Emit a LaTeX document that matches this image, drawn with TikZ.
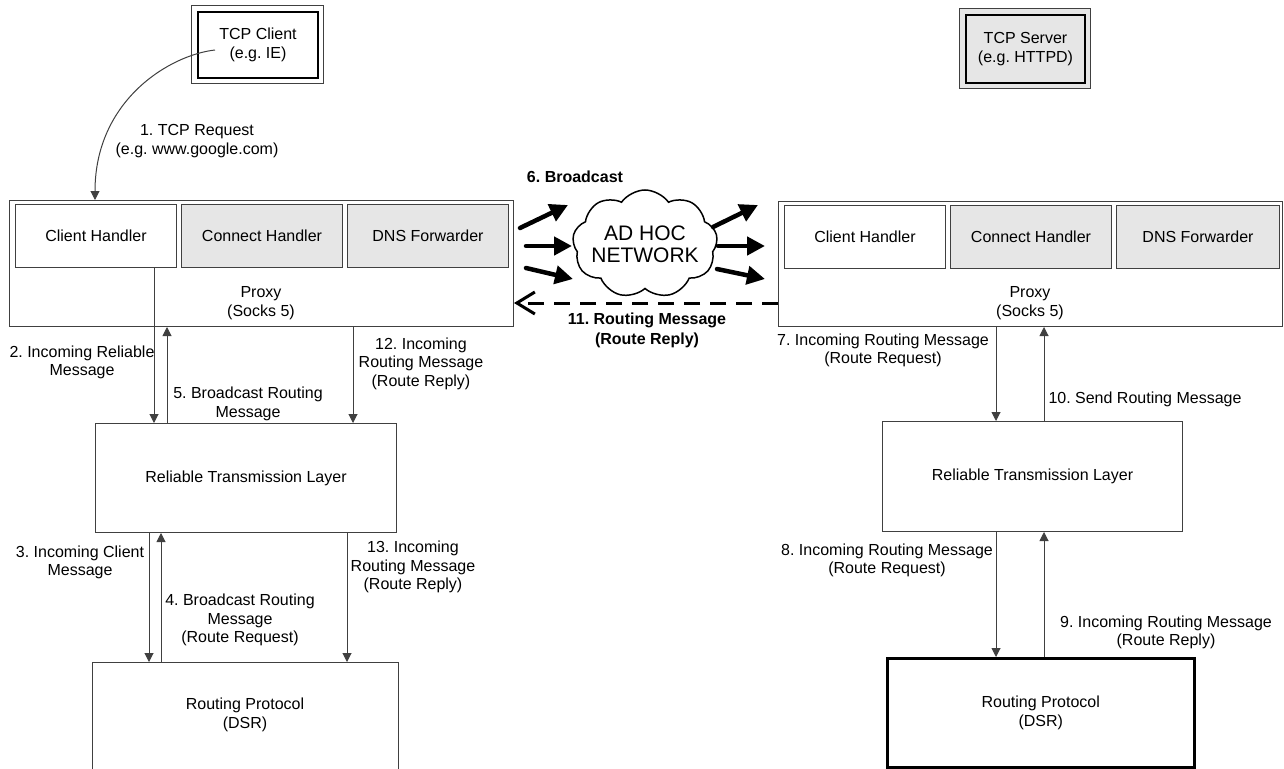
\documentclass[tikz,border=0pt]{standalone}
\usepackage{fontspec}
\setmainfont{Liberation Sans}
\usetikzlibrary{arrows.meta,shapes.symbols,calc}
\definecolor{lg}{HTML}{404040}
\definecolor{fillg}{HTML}{E6E6E6}
\frenchspacing
\begin{document}
\begin{tikzpicture}[x=1pt,y=-1pt,
  font=\frenchspacing\fontsize{16}{18.5}\selectfont,
  box/.style={draw=lg,line width=1pt,inner sep=0pt,anchor=north west,align=center},
  handler/.style={box,minimum width=161pt,minimum height=63pt},
  grayhandler/.style={handler,fill=fillg},
  arr/.style={draw=lg,line width=1pt,-{Triangle[length=9pt,width=9pt]}},
  bcast/.style={line width=4.5pt,line cap=round,-{Triangle[length=18pt,width=18pt]}},
  lbl/.style={align=center,inner sep=0pt},
  blbl/.style={align=center,inner sep=0pt,font=\frenchspacing\fontsize{16}{20}\selectfont\bfseries}]
\useasboundingbox (0,0) rectangle (1284,768);
\fill[white] (0,0) rectangle (1284,768);

% ---------- TCP client / server ----------
\node[box,minimum width=132pt,minimum height=78pt] (clientO) at (191,5) {};
\node[box,draw=black,line width=2pt,minimum width=120pt,minimum height=66pt,fill=white] (client) at (197,11) {};
\node[lbl] (clientT) at (client.center) {TCP Client\\(e.g. IE)};

\node[box,minimum width=131pt,minimum height=80pt,fill=fillg] (serverO) at (959,8) {};
\node[box,draw=black,line width=2pt,minimum width=119pt,minimum height=68pt,fill=fillg] (server) at (965,14) {};
\node[lbl] (serverT) at (server.center) {TCP Server\\(e.g. HTTPD)};

% ---------- left side ----------
\node[box,minimum width=504pt,minimum height=126pt] (pL) at (9,200) {};
\node[handler,fill=white] (chL) at (15,204) {Client Handler};
\node[grayhandler] (cnL) at (181,204) {Connect Handler};
\node[grayhandler] (dnL) at (347,204) {DNS Forwarder};
\node[lbl] (pLT) at (261,303) {Proxy\\(Socks 5)};

\node[box,minimum width=301pt,minimum height=109pt] (rtlL) at (95,423) {Reliable Transmission Layer};
\node[box,minimum width=306pt,minimum height=130pt] (dsrL) at (92,662) {};
\node[lbl] (dsrLT) at (245,715) {Routing Protocol\\(DSR)};

% ---------- right side ----------
\node[box,minimum width=504pt,minimum height=125pt] (pR) at (778,201) {};
\node[handler,fill=white] (chR) at (784,205) {Client Handler};
\node[grayhandler] (cnR) at (950,205) {Connect Handler};
\node[grayhandler,minimum width=163pt] (dnR) at (1116,205) {DNS Forwarder};
\node[lbl] (pRT) at (1030,303) {Proxy\\(Socks 5)};

\node[box,minimum width=300pt,minimum height=110pt] (rtlR) at (882,421) {Reliable Transmission Layer};
\node[box,draw=black,line width=2.5pt,minimum width=307pt,minimum height=109pt] (dsrR) at (886,657) {Routing Protocol\\(DSR)};

% ---------- x positions of vertical connectors ----------
\coordinate (x95) at (95,0);
\coordinate (x154) at (154,0);
\coordinate (x167) at (167,0);
\coordinate (x353) at (353,0);
\coordinate (x149) at (149,0);
\coordinate (x161) at (161,0);
\coordinate (x347) at (347,0);
\coordinate (x996) at (996,0);
\coordinate (x1044) at (1044,0);
\coordinate (y303) at (0,303);

% ---------- connectors left ----------
\coordinate (cs) at (215,50);
\draw[arr] (cs) .. controls (170,55) and (95,100) .. (pL.north -| x95);
\draw[arr] (chL.south -| x154) -- (rtlL.north -| x154);
\draw[arr] (rtlL.north -| x167) -- (pL.south -| x167);
\draw[arr] (pL.south -| x353) -- (rtlL.north -| x353);
\draw[arr] (rtlL.south -| x149) -- (dsrL.north -| x149);
\draw[arr] (dsrL.north -| x161) -- (rtlL.south -| x161);
\draw[arr] (rtlL.south -| x347) -- (dsrL.north -| x347);

% ---------- connectors right ----------
\draw[arr] (pR.south -| x996) -- (rtlR.north -| x996);
\draw[arr] (rtlR.north -| x1044) -- (pR.south -| x1044);
\draw[arr] (rtlR.south -| x996) -- (dsrR.north -| x996);
\draw[arr] (dsrR.north -| x1044) -- (rtlR.south -| x1044);

% ---------- ad hoc network ----------
\node[cloud,draw,line width=1.5pt,fill=white,cloud puffs=9,cloud puff arc=110,cloud ignores aspect,
  minimum width=145pt,minimum height=108pt,inner sep=0pt] (net) at (645,244) {};
\node[lbl,font=\fontsize{21}{22}\selectfont] (netT) at (net.center) {AD HOC\\NETWORK};

\coordinate (b1s) at (520,228); \coordinate (b1e) at (568,205);
\coordinate (b2s) at (526,246); \coordinate (b2e) at (572,246);
\coordinate (b3s) at (526,268); \coordinate (b3e) at (573,279);
\coordinate (b4s) at (713,227); \coordinate (b4e) at (758,205);
\coordinate (b5s) at (718,246); \coordinate (b5e) at (765,246);
\coordinate (b6s) at (717,269); \coordinate (b6e) at (765,279);
\draw[bcast] (b1s) -- (b1e);
\draw[bcast] (b2s) -- (b2e);
\draw[bcast] (b3s) -- (b3e);
\draw[bcast] (b4s) -- (b4e);
\draw[bcast] (b5s) -- (b5e);
\draw[bcast] (b6s) -- (b6e);

\draw[line width=3pt,dash pattern=on 16pt off 10pt,-{Straight Barb[length=18pt,width=22pt,line width=3pt]}]
  (pR.west |- y303) -- (pL.east |- y303);

% ---------- labels ----------
\node[lbl] (l1) at (197,141) {1. TCP Request\\(e.g. www.google.com)};
\node[lbl] (l2) at (82,362.5) {2. Incoming Reliable\\Message};
\node[lbl] (l5) at (248,404) {5. Broadcast Routing\\Message};
\node[lbl] (l12) at (421,363.5) {12. Incoming\\Routing Message\\(Route Reply)};
\node[lbl] (l3) at (80,562.5) {3. Incoming Client\\Message};
\node[lbl] (l4) at (240,620) {4. Broadcast Routing\\Message\\(Route Request)};
\node[lbl] (l13) at (413,567) {13. Incoming\\Routing Message\\(Route Reply)};
\node[lbl] (l7) at (883,350.5) {7. Incoming Routing Message\\(Route Request)};
\node[lbl] (l10) at (1145,399) {10. Send Routing Message};
\node[lbl] (l8) at (887,560.5) {8. Incoming Routing Message\\(Route Request)};
\node[lbl] (l9) at (1166,632.5) {9. Incoming Routing Message\\(Route Reply)};
\node[blbl] (l6) at (575,177) {6. Broadcast};
\node[blbl] (l11) at (647,330) {11. Routing Message\\(Route Reply)};
\end{tikzpicture}
\end{document}
